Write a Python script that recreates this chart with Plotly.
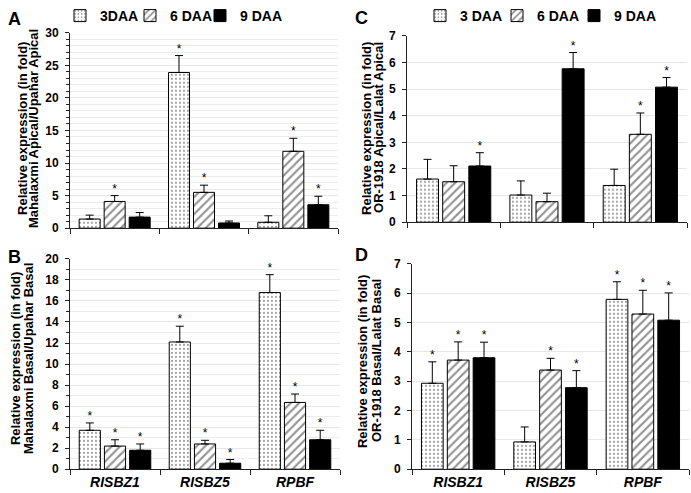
import plotly.graph_objects as go

genes = ["RISBZ1", "RISBZ5", "RPBF"]
series_A = ["3DAA", "6 DAA", "9 DAA"]
series_C = ["3 DAA", "6 DAA", "9 DAA"]

# Panel A: Mahalaxmi Apical / Upahar Apical
A_vals = [[1.4, 23.9, 0.9], [4.1, 5.5, 11.8], [1.7, 0.8, 3.6]]
A_err = [[0.6, 2.6, 1.0], [0.9, 1.1, 2.0], [0.7, 0.3, 1.3]]
A_star = [[0, 1, 0], [1, 1, 1], [0, 0, 1]]

# Panel B: Mahalaxmi Basal / Upahar Basal
B_vals = [[3.7, 12.1, 16.8], [2.2, 2.4, 6.35], [1.8, 0.57, 2.8]]
B_err = [[0.7, 1.5, 1.7], [0.6, 0.35, 0.8], [0.6, 0.35, 0.9]]
B_star = [[1, 1, 1], [1, 1, 1], [1, 1, 1]]

# Panel C: OR-1918 Apical / Lalat Apical
C_vals = [[1.62, 1.02, 1.38], [1.52, 0.77, 3.3], [2.11, 5.76, 5.07]]
C_err = [[0.74, 0.53, 0.61], [0.6, 0.32, 0.8], [0.5, 0.61, 0.36]]
C_star = [[0, 0, 0], [0, 0, 1], [1, 1, 1]]

# Panel D: OR-1918 Basal / Lalat Basal
D_vals = [[2.93, 0.93, 5.79], [3.72, 3.38, 5.29], [3.8, 2.78, 5.08]]
D_err = [[0.73, 0.51, 0.6], [0.62, 0.4, 0.81], [0.53, 0.58, 0.93]]
D_star = [[1, 0, 1], [1, 1, 1], [1, 1, 1]]

W, H = 691, 493
FONT = "Liberation Sans, Arial, sans-serif"

def px(x0, x1):
    return [x0 / W, x1 / W]

def py(ytop, ybot):
    return [1 - ybot / H, 1 - ytop / H]

panels = [
    dict(vals=A_vals, err=A_err, star=A_star, xa="x", ya="y", legend="legend", names=series_A,
         dx=px(70, 338), dy=py(29, 226), rng=[0, 30], dtick=5, minor=1, labels=False,
         title=["Relative expression (in fold)", "Mahalaxmi Apical/Upahar Apical"],
         tpos=(23, 34, 126)),
    dict(vals=B_vals, err=B_err, star=B_star, xa="x2", ya="y2", legend=None, names=series_A,
         dx=px(70, 340), dy=py(257, 469), rng=[0, 20], dtick=2, minor=1, labels=True,
         title=["Relative expression (in fold)", "Mahalaxmi Basal/Upahar Basal"],
         tpos=(15, 28, 358)),
    dict(vals=C_vals, err=C_err, star=C_star, xa="x3", ya="y3", legend="legend2", names=series_C,
         dx=px(407, 687), dy=py(32, 220), rng=[0, 7], dtick=1, minor=None, labels=False,
         title=["Relative expression (in fold)", "OR-1918 Apical/Lalat Apical"],
         tpos=(367, 379, 125)),
    dict(vals=D_vals, err=D_err, star=D_star, xa="x4", ya="y4", legend=None, names=series_C,
         dx=px(412, 689), dy=py(262, 469), rng=[0, 7], dtick=1, minor=None, labels=True,
         title=["Relative expression (in fold)", "OR-1918 Basal/Lalat Basal"],
         tpos=(362, 376, 360)),
]

patterns = [
    dict(shape=".", fgcolor="#111111", bgcolor="white", size=4, solidity=0.18),
    dict(shape="/", fgcolor="#222222", bgcolor="white", size=6, solidity=0.35),
    dict(shape="", fgcolor="black", bgcolor="black"),
]
colors = ["white", "white", "black"]
offsets = [-0.28, 0.0, 0.28]
BARW = 0.235

fig = go.Figure()
layout = dict(
    width=W, height=H, margin=dict(l=0, r=0, t=0, b=0),
    paper_bgcolor="white", plot_bgcolor="white",
    font=dict(family=FONT, size=12, color="black"),
    showlegend=True,
    barmode="overlay",
    hovermode=False,
)

annotations = []
for p in panels:
    for j in range(3):
        xs = [i + offsets[j] for i in range(len(genes))]
        bar_kw = {}
        if j == 2:
            bar_kw["legendwidth"] = 52
        fig.add_trace(go.Bar(
            x=xs, y=p["vals"][j], width=BARW, name=p["names"][j],
            xaxis=p["xa"], yaxis=p["ya"],
            marker=dict(color=colors[j], pattern=patterns[j],
                        line=dict(color="black", width=1)),
            error_y=dict(type="data", symmetric=False, array=p["err"][j],
                         arrayminus=[0] * len(genes), color="black", thickness=1, width=4),
            showlegend=p["legend"] is not None,
            legend=p["legend"] if p["legend"] else "legend",
            **bar_kw,
        ))
        sy = [v + e for v, e in zip(p["vals"][j], p["err"][j])]
        st = ["*" if s else "" for s in p["star"][j]]
        fig.add_trace(go.Scatter(
            x=xs, y=sy, text=st, mode="text", textposition="top center",
            textfont=dict(family=FONT, size=12, color="#000000"),
            xaxis=p["xa"], yaxis=p["ya"], showlegend=False, hoverinfo="skip",
        ))
    xkey = "xaxis" + p["xa"][1:]
    ykey = "yaxis" + p["ya"][1:]
    layout[xkey] = dict(
        domain=p["dx"], anchor=p["ya"], range=[-0.5, 2.5],
        tickvals=[0, 1, 2], ticktext=genes if p["labels"] else ["", "", ""],
        ticks="outside", ticklen=0, showgrid=False, zeroline=False,
        showline=True, linecolor="#222222", linewidth=1,
        tickfont=dict(family=FONT, size=14, color="black", weight="bold", style="italic"),
        ticklabelstandoff=0,
        minor=dict(tickvals=[-0.5, 0.5, 1.5, 2.5], ticks="outside", ticklen=5,
                   tickcolor="#222222", showgrid=False),
        fixedrange=True,
    )
    yd = dict(
        domain=p["dy"], anchor=p["xa"], range=p["rng"], dtick=p["dtick"], tick0=0,
        ticks="outside", ticklen=4, tickcolor="#222222",
        showline=True, linecolor="#222222", linewidth=1,
        showgrid=True, gridcolor="#e6e6e6", gridwidth=1, zeroline=False,
        tickfont=dict(family=FONT, size=12, color="black", weight="bold"),
        ticklabelstandoff=4,
        automargin=False, fixedrange=True,
    )
    if p["minor"]:
        yd["minor"] = dict(dtick=p["minor"], tick0=0, ticks="outside", ticklen=3,
                           tickcolor="#222222", showgrid=True, gridcolor="#ececec")
    layout[ykey] = yd
    x1, x2, yc = p["tpos"]
    for txt, xx in zip(p["title"], (x1, x2)):
        annotations.append(dict(text=txt, x=xx / W, y=1 - yc / H, xref="paper", yref="paper",
                                showarrow=False, textangle=-90, xanchor="center", yanchor="middle",
                                font=dict(family=FONT, size=13, color="black", weight="bold")))

legend_common = dict(orientation="h", xanchor="left", yanchor="middle",
                     font=dict(family=FONT, size=14, color="black", weight="bold"),
                     itemwidth=30, bgcolor="rgba(0,0,0,0)", tracegroupgap=0)
layout["legend"] = dict(x=60 / W, y=1 - 12 / H, entrywidth=25, **legend_common)
layout["legend2"] = dict(x=420 / W, y=1 - 12 / H, entrywidth=32, **legend_common)

for lab, x, y in [("A", 14, 15), ("B", 14, 255), ("C", 362, 14), ("D", 361, 253)]:
    annotations.append(dict(text=lab, x=x / W, y=1 - y / H, xref="paper", yref="paper",
                            showarrow=False, xanchor="center", yanchor="middle",
                            font=dict(family=FONT, size=18, color="black", weight="bold")))
layout["annotations"] = annotations

fig.update_layout(**layout)
fig.write_html("out.html", config={"displayModeBar": False, "staticPlot": False},
               post_script="document.body.style.margin='0px';")
